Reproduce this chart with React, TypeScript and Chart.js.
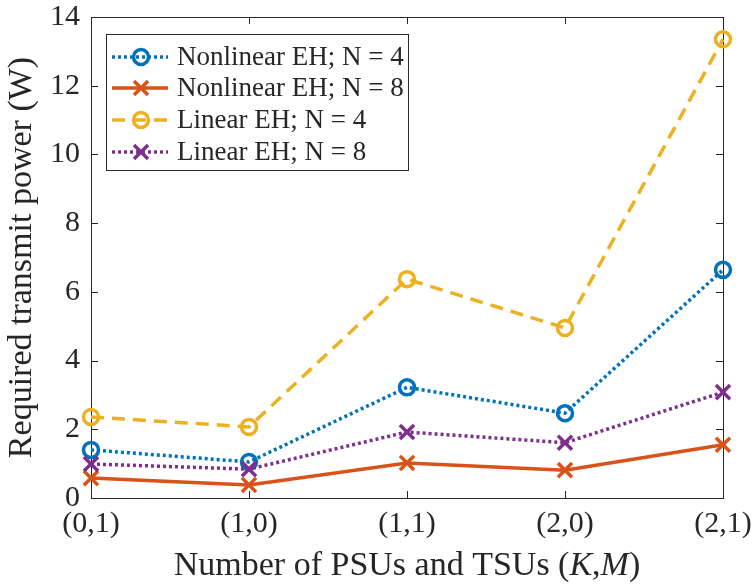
import React, { useEffect, useRef } from "react";
import { Chart, registerables } from "chart.js";

Chart.register(...registerables);

const categories = ["(0,1)", "(1,0)", "(1,1)", "(2,0)", "(2,1)"];
const nonlinearN4 = [1.4, 1.05, 3.22, 2.47, 6.64];
const nonlinearN8 = [0.58, 0.38, 1.02, 0.81, 1.55];
const linearN4 = [2.36, 2.07, 6.37, 4.95, 13.35];
const linearN8 = [0.99, 0.84, 1.92, 1.61, 3.08];
const seriesLabels = ["Nonlinear EH; N = 4", "Nonlinear EH; N = 8", "Linear EH; N = 4", "Linear EH; N = 8"];
const yTickValues = [0, 2, 4, 6, 8, 10, 12, 14];
const yTitle = "Required transmit power (W)";
const xTitleParts: [string, boolean][] = [["Number of PSUs and TSUs (", false], ["K", true], [",", false], ["M", true], [")", false]];

const FONT = "'Liberation Serif', 'Times New Roman', serif";
const INK = "#262626";
const COLORS = ["#0072BD", "#D95319", "#EDB120", "#7E2F8E"];
const DASHES: number[][] = [[3, 3], [], [13, 8], [3, 3]];
const MARKERS = ["circle", "crossRot", "circle", "crossRot"];
const LW = 3.5;

function drawMarker(ctx: CanvasRenderingContext2D, style: string, x: number, y: number, color: string) {
  ctx.save();
  ctx.setLineDash([]);
  ctx.strokeStyle = color;
  ctx.lineWidth = LW;
  ctx.beginPath();
  if (style === "circle") {
    ctx.arc(x, y, 7.5, 0, Math.PI * 2);
  } else {
    const h = 7;
    ctx.moveTo(x - h, y - h);
    ctx.lineTo(x + h, y + h);
    ctx.moveTo(x - h, y + h);
    ctx.lineTo(x + h, y - h);
  }
  ctx.stroke();
  ctx.restore();
}

const framePlugin = {
  id: "matlabFrame",
  beforeDatasetsDraw(chart: any) {
    const { ctx, chartArea } = chart;
    const { left, right, top, bottom } = chartArea;
    const xs = chart.scales.x;
    const ys = chart.scales.y;
    ctx.save();
    ctx.strokeStyle = INK;
    ctx.lineWidth = 1;
    ctx.setLineDash([]);
    ctx.strokeRect(Math.round(left) + 0.5, Math.round(top) + 0.5, Math.round(right - left), Math.round(bottom - top));
    const tl = 7;
    ctx.beginPath();
    yTickValues.forEach((v) => {
      const py = Math.round(ys.getPixelForValue(v)) + 0.5;
      ctx.moveTo(left, py);
      ctx.lineTo(left + tl, py);
      ctx.moveTo(right, py);
      ctx.lineTo(right - tl, py);
    });
    categories.forEach((_, i) => {
      const px = Math.round(xs.getPixelForValue(i)) + 0.5;
      ctx.moveTo(px, bottom);
      ctx.lineTo(px, bottom - tl);
      ctx.moveTo(px, top);
      ctx.lineTo(px, top + tl);
    });
    ctx.stroke();
    ctx.restore();
  },
  afterDraw(chart: any) {
    const { ctx, chartArea } = chart;
    const { left, right, top, bottom } = chartArea;
    ctx.save();
    ctx.fillStyle = INK;
    // y title
    ctx.save();
    ctx.translate(22, (top + bottom) / 2);
    ctx.rotate(-Math.PI / 2);
    ctx.font = `34px ${FONT}`;
    ctx.textAlign = "center";
    ctx.textBaseline = "middle";
    ctx.fillText(yTitle, 0, 0);
    ctx.restore();
    // x title with italic parts
    let total = 0;
    const widths = xTitleParts.map(([t, it]) => {
      ctx.font = `${it ? "italic " : ""}34px ${FONT}`;
      const w = ctx.measureText(t).width;
      total += w;
      return w;
    });
    let cx = (left + right) / 2 - total / 2;
    ctx.textAlign = "left";
    ctx.textBaseline = "alphabetic";
    xTitleParts.forEach(([t, it], i) => {
      ctx.font = `${it ? "italic " : ""}34px ${FONT}`;
      ctx.fillText(t, cx, 575);
      cx += widths[i];
    });
    // legend
    const bx = 106, by = 34, bw = 302, bh = 136;
    ctx.fillStyle = "#ffffff";
    ctx.fillRect(bx, by, bw, bh);
    ctx.strokeStyle = INK;
    ctx.lineWidth = 1;
    ctx.setLineDash([]);
    ctx.strokeRect(bx + 0.5, by + 0.5, bw, bh);
    const rows = [57, 88, 120, 152];
    seriesLabels.forEach((label, i) => {
      const ry = rows[i];
      ctx.save();
      ctx.strokeStyle = COLORS[i];
      ctx.lineWidth = LW;
      ctx.setLineDash(DASHES[i]);
      ctx.beginPath();
      ctx.moveTo(112, ry);
      ctx.lineTo(168, ry);
      ctx.stroke();
      ctx.restore();
      drawMarker(ctx, MARKERS[i], 141, ry, COLORS[i]);
      ctx.fillStyle = INK;
      ctx.font = `27px ${FONT}`;
      ctx.textAlign = "left";
      ctx.textBaseline = "alphabetic";
      ctx.fillText(label, 177, ry + 8);
    });
    ctx.restore();
  },
};

export default function App() {
  const ref = useRef<HTMLCanvasElement>(null);
  useEffect(() => {
    if (!ref.current) return;
    const series = [nonlinearN4, nonlinearN8, linearN4, linearN8];
    const chart = new Chart(ref.current, {
      type: "line",
      data: {
        labels: categories,
        datasets: series.map((d, i) => ({
          label: seriesLabels[i],
          data: d,
          borderColor: COLORS[i],
          backgroundColor: "rgba(0,0,0,0)",
          borderWidth: LW,
          borderDash: DASHES[i],
          pointStyle: MARKERS[i] as any,
          pointRadius: MARKERS[i] === "circle" ? 7.5 : 10,
          pointBorderWidth: LW,
          pointBorderColor: COLORS[i],
          pointBackgroundColor: "rgba(0,0,0,0)",
          tension: 0,
          clip: false as any,
          order: 4 - i,
        })),
      },
      options: {
        responsive: false,
        animation: false,
        devicePixelRatio: 1,
        layout: { padding: { top: 17, right: 32, left: 0, bottom: 0 } },
        plugins: { legend: { display: false }, tooltip: { enabled: false }, title: { display: false } },
        scales: {
          x: {
            type: "category",
            offset: false,
            grid: { display: false, drawTicks: false },
            border: { display: false },
            ticks: { color: INK, font: { family: FONT, size: 30 }, padding: 8, maxRotation: 0, autoSkip: false },
            afterFit: (s: any) => {
              s.height = 90;
              s.paddingLeft = 0;
              s.paddingRight = 0;
            },
          },
          y: {
            min: 0,
            max: 14,
            grid: { display: false, drawTicks: false },
            border: { display: false },
            ticks: { stepSize: 2, color: INK, font: { family: FONT, size: 30 }, padding: 11 },
            afterFit: (s: any) => {
              s.width = 91;
              s.paddingTop = 0;
              s.paddingBottom = 0;
            },
          },
        },
      },
      plugins: [framePlugin],
    });
    return () => chart.destroy();
  }, []);
  return (
    <div style={{ position: "absolute", left: 0, top: 0, width: 755, height: 588, background: "#fff" }}>
      <canvas ref={ref} width={755} height={588} style={{ width: 755, height: 588 }} />
    </div>
  );
}
